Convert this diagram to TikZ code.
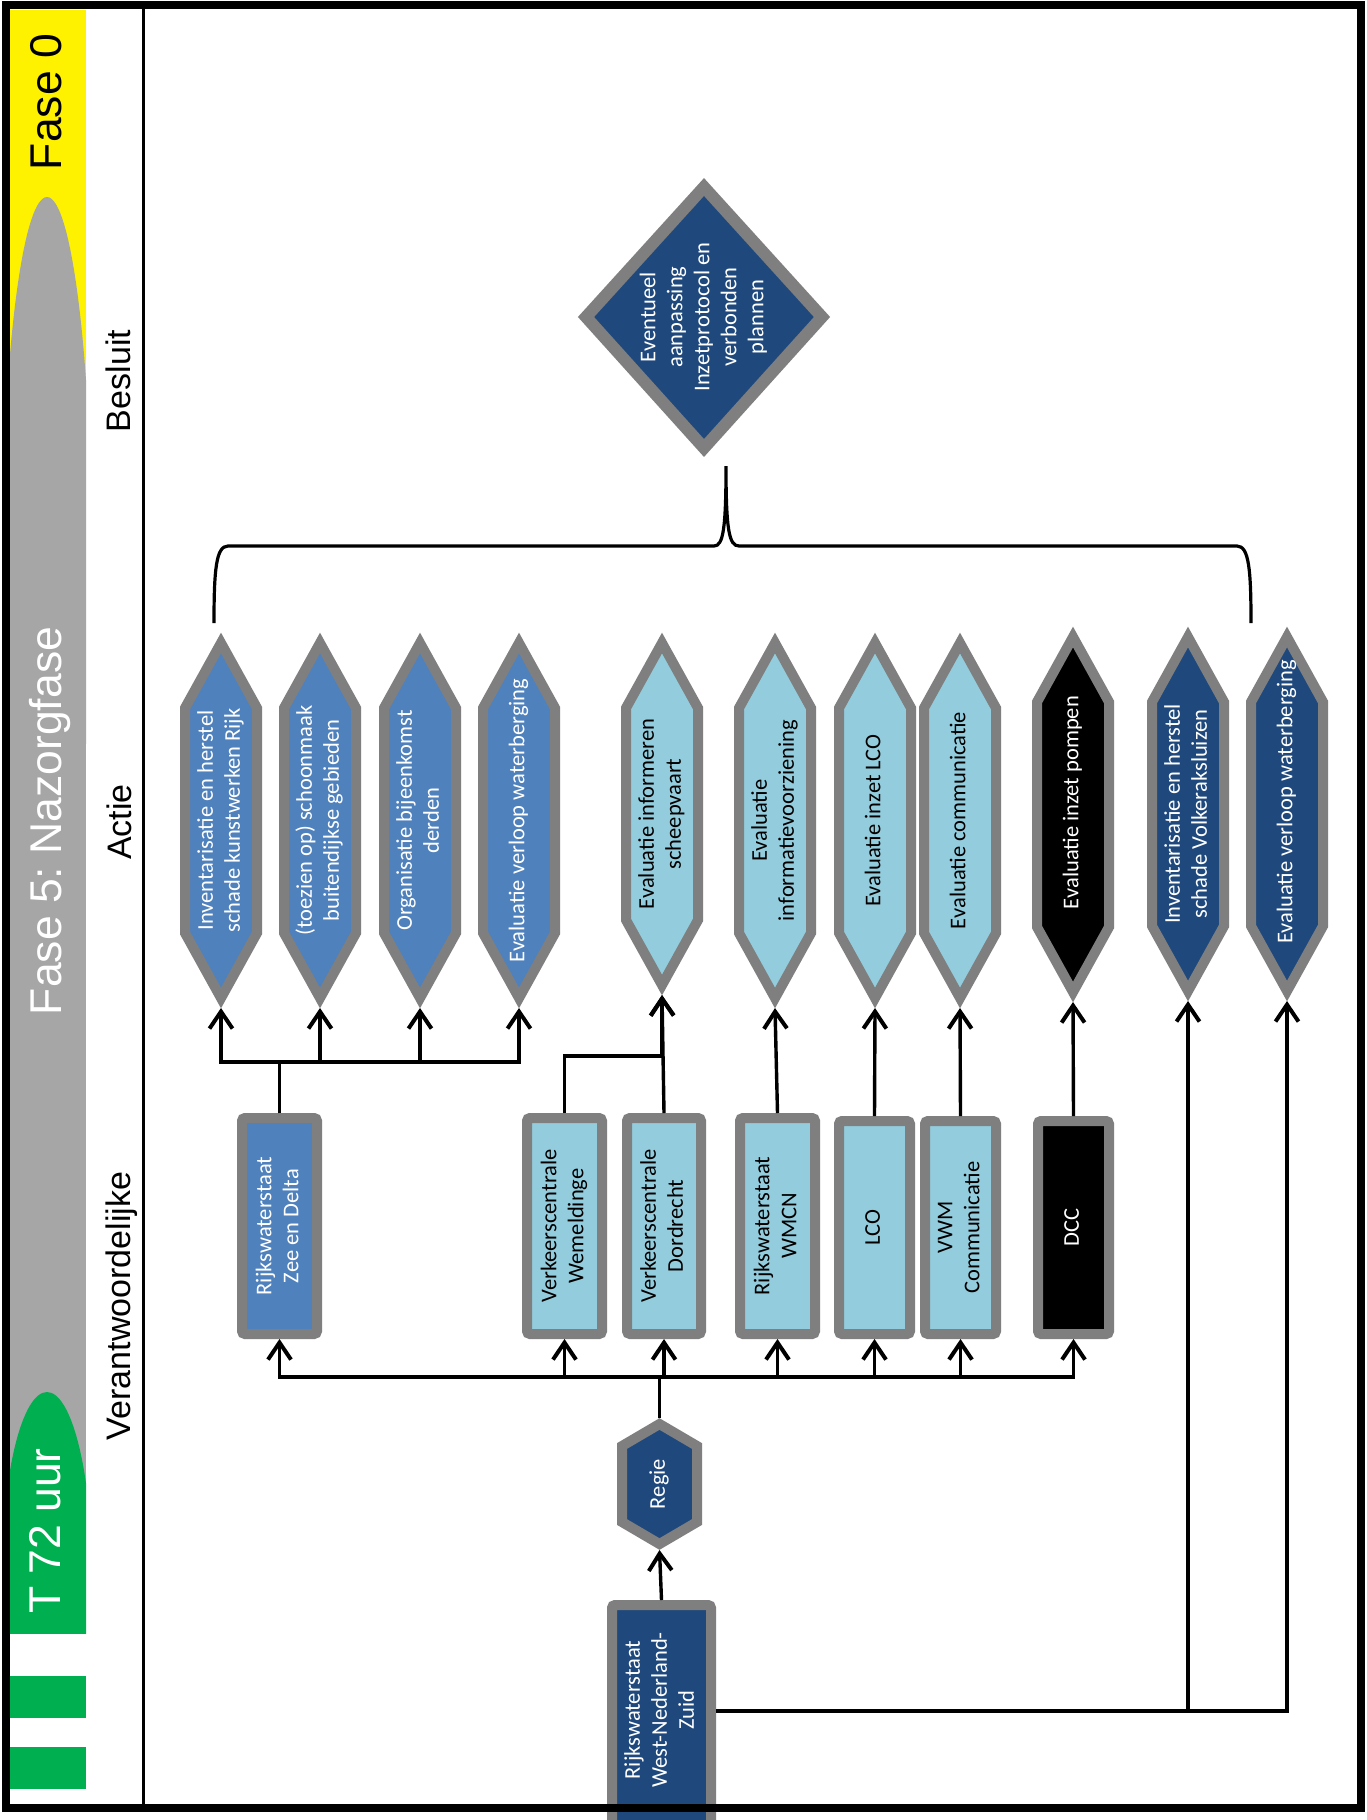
\documentclass[tikz,border=0pt]{standalone}
\usepackage{fontspec}
\usepackage{graphicx}
\setmainfont{Carlito}
\newfontfamily\arialf{Liberation Sans}
\usetikzlibrary{arrows.meta}
\definecolor{bgray}{RGB}{127,127,127}
\definecolor{medblue}{RGB}{79,129,189}
\definecolor{lightblue}{RGB}{147,205,221}
\definecolor{darkblue}{RGB}{31,73,125}
\definecolor{bandgray}{RGB}{166,166,166}
\definecolor{phasegreen}{RGB}{0,176,80}
\frenchspacing
\newcommand\nodefont{\fontsize{22.5}{27}\selectfont}
\newcommand\rot[2][0pt]{\rotatebox{90}{\hspace*{#1}\begin{tabular}{@{}c@{}}#2\end{tabular}}}
\newcommand\hexpath[4]{\filldraw[hexline,fill=#4] (#1,#2+10) -- (#1+36,#2+75) -- (#1+36,#3-75) -- (#1,#3-10) -- (#1-36,#3-75) -- (#1-36,#2+75) -- cycle;}
\begin{document}
\begin{tikzpicture}[x=1pt,y=-1pt,
  hexline/.style={draw=bgray,line width=10pt,line join=miter},
  hexlab/.style={draw=none,inner sep=0pt,outer sep=0pt,minimum width=82pt,font=\nodefont},
  boxn/.style={draw=bgray,line width=10pt,rounded corners=3pt,inner sep=0pt,font=\nodefont},
  conn/.style={line width=3.4pt,line join=miter},
  arr/.style={conn,-{Straight Barb[length=17pt,width=23pt,line width=4pt]}},
  lane/.style={rotate=90,anchor=base,inner sep=0pt,font=\arialf\fontsize{34}{40}\selectfont},
  phase/.style={rotate=90,anchor=base,inner sep=0pt,font=\arialf\fontsize{44.5}{52}\selectfont}]
\useasboundingbox (0,0) rectangle (1367,1820);
\begin{scope}
\clip (0,0) rectangle (1367,1820);
\fill[white] (0,0) rectangle (1367,1820);
% phase band
\begin{scope}
\clip (10,10) rectangle (86,1633);
\fill[yellow] (10,10) rectangle (86,420);
\fill[bandgray] (47,562) ellipse [x radius=45, y radius=365];
\fill[bandgray] (10,560) rectangle (86,1633);
\fill[phasegreen] (47,1574) ellipse [x radius=45, y radius=182];
\fill[phasegreen] (10,1570) rectangle (86,1633);
\end{scope}
\fill[phasegreen] (10,1676) rectangle (86,1718);
\fill[phasegreen] (10,1747) rectangle (86,1789);
\node[phase] (f0) at (61,102) {Fase 0};
\node[phase,text=white] (f5) at (61,821) {Fase 5: Nazorgfase};
\node[phase,text=white] (t72) at (60,1531) {T 72 uur};
% lane labels
\node[lane] (lb) at (130,381) {Besluit};
\node[lane] (la) at (131,822) {Actie};
\node[lane] (lv) at (130,1306) {Verantwoordelijke};
% decision diamond
\filldraw[draw=bgray,line width=12pt,line join=miter,fill=darkblue] (704,187) -- (822,317) -- (704,448) -- (586,317) -- cycle;
\node[hexlab,minimum width=244pt,minimum height=279pt,text=white] (dec) at (704,317) {\rot{Eventueel\\aanpassing\\Inzetprotocol en\\verbonden\\plannen}};
% brace
\draw[line width=3.2pt] (214,623) .. controls (214,570) and (216,546) .. (228,546) -- (714,546) .. controls (723,546) and (726,530) .. (726,466) .. controls (726,530) and (729,546) .. (739,546) -- (1237,546) .. controls (1249,546) and (1251,570) .. (1251,623);
% action hexagons
\hexpath{221}{633}{1008}{medblue}
\node[hexlab,minimum height=375pt,text=white] (h1) at (221,820.5) {\rot{Inventarisatie en herstel\\schade kunstwerken Rijk}};
\hexpath{320}{633}{1008}{medblue}
\node[hexlab,minimum height=375pt,text=white] (h2) at (320,820.5) {\rot{(toezien op) schoonmaak\\buitendijkse gebieden}};
\hexpath{420}{633}{1008}{medblue}
\node[hexlab,minimum height=375pt,text=white] (h3) at (420,820.5) {\rot{Organisatie bijeenkomst\\derden}};
\hexpath{519}{633}{1008}{medblue}
\node[hexlab,minimum height=375pt,text=white] (h4) at (519,820.5) {\rot{Evaluatie verloop waterberging}};
\hexpath{662}{633}{995}{lightblue}
\node[hexlab,minimum height=362pt] (h5) at (662,814) {\rot{Evaluatie informeren\\scheepvaart}};
\hexpath{775}{633}{1008}{lightblue}
\node[hexlab,minimum height=375pt] (h6) at (775,820.5) {\rot{Evaluatie\\informatievoorziening}};
\hexpath{875}{633}{1008}{lightblue}
\node[hexlab,minimum height=375pt] (h7) at (875,820.5) {\rot{Evaluatie inzet LCO}};
\hexpath{960}{633}{1008}{lightblue}
\node[hexlab,minimum height=375pt] (h8) at (960,820.5) {\rot{Evaluatie communicatie}};
\hexpath{1073}{627}{1002}{black}
\node[hexlab,minimum height=375pt,text=white] (h9) at (1073,814.5) {\rot[24pt]{Evaluatie inzet pompen}};
\hexpath{1188}{627}{1001}{darkblue}
\node[hexlab,minimum height=374pt,text=white] (h10) at (1188,814) {\rot{Inventarisatie en herstel\\schade Volkeraksluizen}};
\hexpath{1287}{627}{1001}{darkblue}
\node[hexlab,minimum height=374pt,text=white] (h11) at (1287,814) {\rot[24pt]{Evaluatie verloop waterberging}};
% responsible boxes
\node[boxn,fill=medblue,text=white,minimum width=75pt,minimum height=216pt] (zd) at (279.5,1226) {\rot{Rijkswaterstaat\\Zee en Delta}};
\node[boxn,fill=lightblue,minimum width=75pt,minimum height=216pt] (wem) at (564.5,1226) {\rot{Verkeerscentrale\\Wemeldinge}};
\node[boxn,fill=lightblue,minimum width=74pt,minimum height=216pt] (dor) at (664,1226) {\rot{Verkeerscentrale\\Dordrecht}};
\node[boxn,fill=lightblue,minimum width=75pt,minimum height=216pt] (wmcn) at (777.5,1226) {\rot{Rijkswaterstaat\\WMCN}};
\node[boxn,fill=lightblue,minimum width=71pt,minimum height=213pt] (lco) at (874.5,1227.5) {\rot{LCO}};
\node[boxn,fill=lightblue,minimum width=71pt,minimum height=213pt] (vwm) at (960.5,1227.5) {\rot{VWM\\Communicatie}};
\node[boxn,fill=black,text=white,minimum width=71pt,minimum height=213pt] (dcc) at (1073.5,1227.5) {\rot{DCC}};
% regie
\filldraw[hexline,fill=darkblue] (659.5,1424) -- (697,1446) -- (697,1522) -- (659.5,1544) -- (622,1522) -- (622,1446) -- cycle;
\node[hexlab,minimum width=85pt,minimum height=132pt,text=white] (regie) at (659.5,1484) {\rot{Regie}};
% RWS WNZ
\node[boxn,fill=darkblue,text=white,minimum width=99pt,minimum height=235pt] (wnz) at (661.5,1722.5) {\rot[25pt]{Rijkswaterstaat\\West-Nederland-\\Zuid}};
% connectors
\draw[arr] (wnz.north) -- (regie.south);
\foreach \b in {zd,wem,dor,wmcn,lco,vwm,dcc} \draw[arr] (regie.north) -- ++(0,-41) -| (\b.south);
\foreach \h in {h1,h2,h3,h4} \draw[arr] (zd.north) -- ++(0,-51) -| (\h.south);
\draw[arr] (wem.north) -- ++(0,-57) -| (h5.south);
\draw[arr] (dor.north) -- (h5.south);
\draw[arr] (wmcn.north) -- (h6.south);
\draw[arr] (lco.north) -- (h7.south);
\draw[arr] (vwm.north) -- (h8.south);
\draw[arr] (dcc.north) -- (h9.south);
\draw[arr] ([yshift=11.5pt]wnz.east) -| (h10.south);
\draw[arr] ([yshift=11.5pt]wnz.east) -| (h11.south);
% frame and divider
\draw[line width=3pt] (143,5) -- (143,1808);
\draw[line width=8pt] (6,5) rectangle (1361,1808);
\end{scope}
\end{tikzpicture}
\end{document}
